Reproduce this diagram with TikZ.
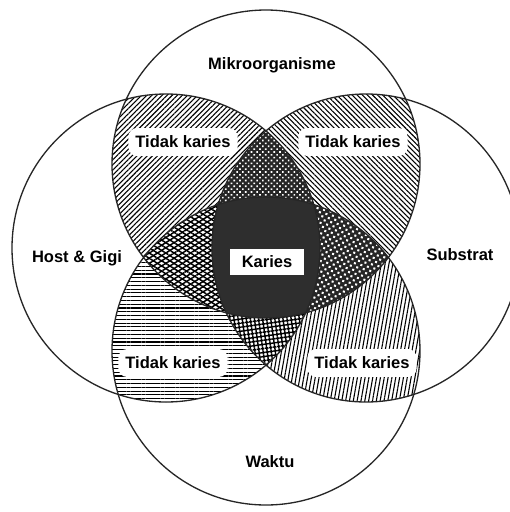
\documentclass[tikz,border=0pt]{standalone}
\usepackage{fontspec}
\setmainfont{Liberation Sans}
\usetikzlibrary{patterns.meta}
\begin{document}
\begin{tikzpicture}[x=0.02cm,y=-0.02cm,
  ring/.style={draw=black!85, line width=0.75pt},
  lbl/.style={font=\fontsize{9.4}{11}\selectfont\bfseries, text=black, inner sep=1pt},
  tag/.style={lbl, fill=white, inner xsep=4pt, inner ysep=4.5pt, rounded corners=5pt},
  core/.style={fill=black!82},
  dark/.style={fill=black!85},
  hatchNE/.style={pattern={Lines[angle=45,distance=2.05pt,line width=0.62pt]}},
  hatchNW/.style={pattern={Lines[angle=-45,distance=2.05pt,line width=0.62pt]}},
  hatchH/.style={pattern={Lines[angle=0,distance=2.15pt,line width=0.62pt]}},
  hatchV/.style={pattern={Lines[angle=80,distance=2.15pt,line width=0.62pt]}},
  dotsA/.style={pattern={Dots[distance=2.3pt,radius=0.65pt,angle=45]}, pattern color=white},
  dotsB/.style={pattern={Dots[distance=2.7pt,radius=0.82pt,angle=30]}, pattern color=white},
  crossA/.style={pattern={Lines[angle=32,distance=2.5pt,line width=0.85pt]}},
  crossB/.style={pattern={Lines[angle=-32,distance=2.5pt,line width=0.85pt]}},
  grid/.style={pattern={Hatch[angle=8,distance=2.3pt,line width=0.8pt]}}]

\useasboundingbox (0,0) rectangle (510,512);
\clip (0,0) rectangle (510,512);
\fill[white] (0,0) rectangle (510,512);

% the four factor circles
\def\cirT{(266,164) circle[radius=154]}
\def\cirB{(266,351) circle[radius=154]}
\def\cirL{(166,248) circle[radius=154]}
\def\cirR{(366,248) circle[radius=154]}

% overlaps of two factors
\begin{scope}\clip \cirT; \fill[hatchNE] \cirL; \end{scope}
\begin{scope}\clip \cirT; \fill[hatchNW] \cirR; \end{scope}
\begin{scope}\clip \cirL; \fill[hatchH] \cirB; \end{scope}
\begin{scope}\clip \cirR; \fill[hatchV] \cirB; \end{scope}

% overlaps of three factors
\begin{scope}\clip \cirT; \clip \cirL; \clip \cirR;
  \fill[dark] \cirT; \fill[dotsA] \cirT; \end{scope}
\begin{scope}\clip \cirT; \clip \cirL; \clip \cirB;
  \fill[white] \cirT; \fill[crossA] \cirT; \fill[crossB] \cirT; \end{scope}
\begin{scope}\clip \cirT; \clip \cirR; \clip \cirB;
  \fill[dark] \cirT; \fill[dotsB] \cirT; \end{scope}
\begin{scope}\clip \cirL; \clip \cirR; \clip \cirB;
  \fill[white] \cirB; \fill[grid] \cirB; \end{scope}

% all four factors
\begin{scope}\clip \cirT; \clip \cirL; \clip \cirR;
  \fill[core] \cirB; \end{scope}

% outlines
\draw[ring] \cirT;
\draw[ring] \cirB;
\draw[ring] \cirL;
\draw[ring] \cirR;

% labels
\node[lbl] (mik) at (272,65) {Mikroorganisme};
\node[lbl] (host) at (77,258) {Host \& Gigi};
\node[lbl] (sub) at (460,255) {Substrat};
\node[lbl] (wak) at (270,462) {Waktu};

\node[tag] (tl) at (183,142) {Tidak karies};
\node[tag] (tr) at (353,142) {Tidak karies};
\node[tag] (bl) at (173,363) {Tidak karies};
\node[tag] (br) at (362,363) {Tidak karies};

\node[lbl, fill=white, minimum width=42pt, minimum height=15pt, inner sep=0pt] (kar) at (267,262) {Karies};
\end{tikzpicture}
\end{document}
